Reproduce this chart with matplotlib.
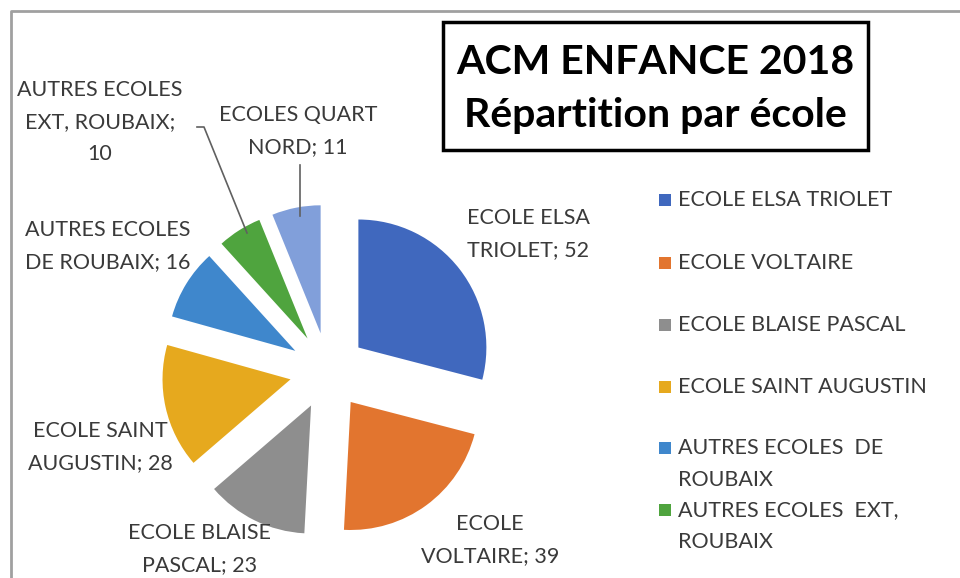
import matplotlib.pyplot as plt
from matplotlib.patches import Rectangle

# data
schools = ["ECOLE ELSA TRIOLET", "ECOLE VOLTAIRE", "ECOLE BLAISE PASCAL",
           "ECOLE SAINT AUGUSTIN", "AUTRES ECOLES  DE ROUBAIX",
           "AUTRES ECOLES  EXT, ROUBAIX", "ECOLES QUART NORD"]
counts = [52, 39, 23, 28, 16, 10, 11]
data_labels = ["ECOLE ELSA\nTRIOLET; 52", "ECOLE\nVOLTAIRE; 39",
               "ECOLE BLAISE\nPASCAL; 23", "ECOLE SAINT\nAUGUSTIN; 28",
               "AUTRES ECOLES\nDE ROUBAIX; 16", "AUTRES ECOLES\nEXT, ROUBAIX;\n10",
               "ECOLES QUART\nNORD; 11"]
legend_labels = ["ECOLE ELSA TRIOLET", "ECOLE VOLTAIRE", "ECOLE BLAISE PASCAL",
                 "ECOLE SAINT AUGUSTIN", "AUTRES ECOLES  DE\nROUBAIX",
                 "AUTRES ECOLES  EXT,\nROUBAIX"]
colors = ["#4068BE", "#E2752F", "#8E8E8E", "#E6A91E", "#3F87CC", "#4FA43E", "#819FDA"]

W, H = 960, 578
TXT = "#3a3a3a"
FS = 15.5
R = 128

fig = plt.figure(figsize=(W / 100, H / 100), dpi=100)
ax = fig.add_axes([0, 0, 1, 1])

# pie, all slices pulled out (Excel style) - explode is absolute in data units
ax.pie(counts, colors=colors, startangle=90, counterclock=False,
       explode=[0.3 * R] * len(counts), radius=R, center=(328, H - 371),
       wedgeprops=dict(linewidth=0))
ax.set_xlim(0, W)
ax.set_ylim(0, H)
ax.set_aspect("auto")
ax.axis("off")

# data labels (image coords -> y flipped)
label_pos = [(528, 234), (490, 540), (200, 549), (100, 447),
             (108, 246), (100, 122), (298, 131)]
for txt, (x, y) in zip(data_labels, label_pos):
    ax.text(x, H - y, txt, ha="center", va="center", fontsize=FS,
            family="Lato", color=TXT, linespacing=1.72)

# leader lines
ax.plot([197, 204, 247], [H - 127, H - 127, H - 233], color="#606060", lw=1.2)
ax.plot([300, 300], [H - 165, H - 216], color="#606060", lw=1.2)

# legend drawn by hand (Excel wraps + clips the last entry)
leg_y = [200, 263, 325, 387, 448, 510]
for lab, c, y in zip(legend_labels, colors, leg_y):
    ax.add_patch(Rectangle((659, H - y - 6), 12, 12, color=c, lw=0))
    ax.text(678, H - y + 10, lab, ha="left", va="top", fontsize=FS,
            family="Lato", color=TXT, linespacing=1.72)

# title box
ax.add_patch(Rectangle((443, H - 150), 425, 128, fill=False, ec="black", lw=2.5))
ax.text(655, H - 63, "ACM ENFANCE 2018", ha="center", va="center",
        fontsize=29.5, fontweight="bold", family="Lato", color="black")
ax.text(655, H - 116, "Répartition par école", ha="center", va="center",
        fontsize=29.5, fontweight="bold", family="Lato", color="black")

# outer chart frame (only top/left visible)
ax.plot([11, 11, W], [0, H - 11, H - 11], color="#a0a0a0", lw=2)

fig.savefig("out.png", dpi=100)
